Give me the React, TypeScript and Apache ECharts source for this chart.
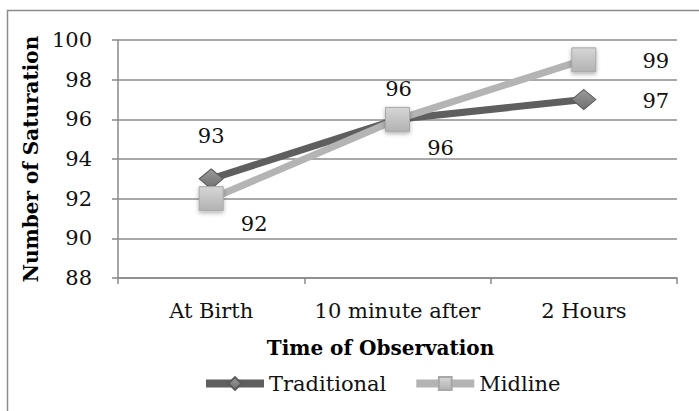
import React, { useEffect, useRef } from "react";
import * as echarts from "echarts";

const categories = ["At Birth", "10 minute after", "2 Hours"];
const traditional = [93, 96, 97];
const midline = [92, 96, 99];
const yTicks = [88, 90, 92, 94, 96, 98, 100];

const FONT = "DejaVu Serif";

export default function App() {
  const ref = useRef<HTMLDivElement>(null);
  useEffect(() => {
    if (!ref.current) return;
    const chart = echarts.init(ref.current, null, { renderer: "svg" });
    const tradLabelOffsets = [[0, -43], [1, -30], [72, 1]];
    const midLabelOffsets = [[43, 25], [43, 29], [72, 1]];
    const labelStyle = { fontFamily: FONT, fontSize: 21, color: "#111" };
    chart.setOption({
      animation: false,
      backgroundColor: "#fff",
      graphic: [
        {
          type: "rect",
          shape: { x: 7.5, y: 10.5, width: 720, height: 420 },
          style: { fill: "none", stroke: "#8c8c8c", lineWidth: 1.5 },
          silent: true,
        },
      ],
      grid: { left: 118, right: 22, top: 40, bottom: 133, containLabel: false },
      xAxis: {
        type: "category",
        data: categories,
        boundaryGap: true,
        name: "Time of Observation",
        nameLocation: "middle",
        nameGap: 60,
        nameTextStyle: {
          fontFamily: FONT, fontSize: 20, fontWeight: "bold", color: "#000",
          padding: [0, 34, 0, 0],
        },
        axisLine: { lineStyle: { color: "#888", width: 1.5 } },
        axisTick: { show: true, length: 6, lineStyle: { color: "#888", width: 1.5 } },
        axisLabel: { fontFamily: FONT, fontSize: 21, color: "#111", margin: 22, interval: 0, hideOverlap: false },
      },
      yAxis: {
        type: "value",
        min: 88,
        max: 100,
        interval: 2,
        name: "Number of Saturation",
        nameLocation: "middle",
        nameGap: 72,
        nameTextStyle: { fontFamily: FONT, fontSize: 20, fontWeight: "bold", color: "#000" },
        axisLine: { show: true, lineStyle: { color: "#888", width: 1.5 } },
        axisTick: { show: true, length: 6, lineStyle: { color: "#888", width: 1.5 } },
        splitLine: { lineStyle: { color: "#8c8c8c", width: 1.5 } },
        axisLabel: {
          fontFamily: FONT,
          fontSize: 21,
          color: "#111",
          margin: 26,
          formatter: (v: number) => (yTicks.includes(v) ? String(v) : ""),
        },
      },
      legend: {
        bottom: 12,
        left: 197,
        itemWidth: 58,
        itemHeight: 16,
        itemGap: 26,
        textStyle: { fontFamily: FONT, fontSize: 21, color: "#111" },
        lineStyle: { width: 8 },
        data: ["Traditional", "Midline"],
      },
      series: [
        {
          name: "Traditional",
          type: "line",
          data: traditional.map((v, i) => ({
            value: v,
            label: { offset: tradLabelOffsets[i] },
          })),
          symbol: "diamond",
          symbolSize: [24, 20],
          lineStyle: { color: "#5f5f5f", width: 7 },
          itemStyle: {
            color: {
              type: "linear", x: 0, y: 0, x2: 0, y2: 1,
              colorStops: [
                { offset: 0, color: "#9a9a9a" },
                { offset: 1, color: "#707070" },
              ],
            },
            borderColor: "#5a5a5a",
            borderWidth: 1,
          },
          label: { show: true, position: "inside", ...labelStyle },
          z: 3,
        },
        {
          name: "Midline",
          type: "line",
          data: midline.map((v, i) => ({
            value: v,
            label: { offset: midLabelOffsets[i] },
          })),
          symbol: "rect",
          symbolSize: [24, 24],
          lineStyle: { color: "#b4b4b4", width: 7 },
          itemStyle: {
            color: {
              type: "linear", x: 0, y: 0, x2: 0, y2: 1,
              colorStops: [
                { offset: 0, color: "#d6d6d6" },
                { offset: 1, color: "#b2b2b2" },
              ],
            },
            borderColor: "#a8a8a8",
            borderWidth: 1,
            shadowColor: "rgba(0,0,0,0.3)",
            shadowBlur: 4,
            shadowOffsetY: 2,
          },
          label: { show: true, position: "inside", ...labelStyle },
          z: 4,
        },
      ],
    });
    return () => chart.dispose();
  }, []);
  return (
    <div
      ref={ref}
      style={{ position: "fixed", left: 0, top: 0, width: 699, height: 411 }}
    />
  );
}
